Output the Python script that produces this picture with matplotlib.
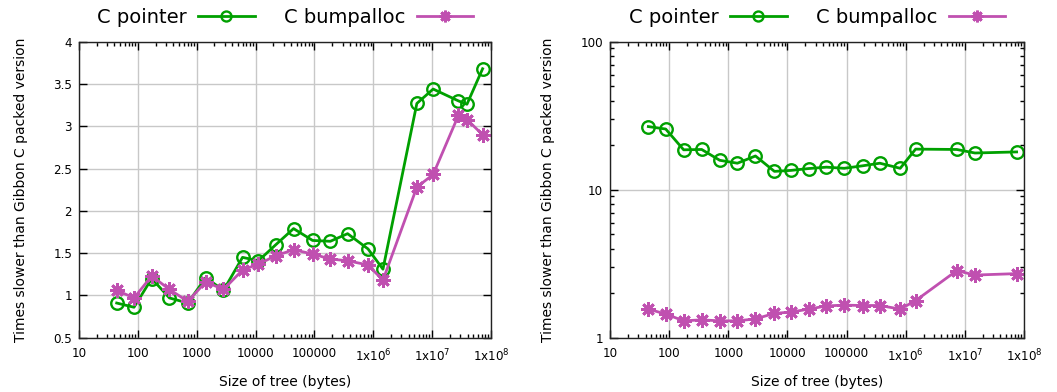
import matplotlib
matplotlib.use("Agg")
import matplotlib.pyplot as plt
from matplotlib.ticker import FixedLocator, LogLocator, NullFormatter

# ---- data ----
left_x_pointer = [43.7, 86, 172, 344, 705, 1425, 2850, 6000, 11200, 22100, 44200, 93000,
                  186000, 366000, 813000, 1.46e6, 5.5e6, 1.04e7, 2.8e7, 3.9e7, 7.2e7]
left_pointer = [0.91, 0.86, 1.20, 0.97, 0.91, 1.21, 1.06, 1.45, 1.41, 1.60, 1.79, 1.65,
                1.64, 1.73, 1.55, 1.31, 3.27, 3.44, 3.30, 3.26, 3.68]
left_bump = [1.06, 0.97, 1.23, 1.07, 0.93, 1.16, 1.07, 1.30, 1.37, 1.47, 1.54, 1.49,
             1.43, 1.41, 1.36, 1.18, 2.28, 2.43, 3.13, 3.08, 2.90]

right_x = [44.5, 87.5, 176, 355, 717, 1425, 2880, 6030, 11400, 23000, 45700, 91000,
           186000, 365000, 807000, 1.47e6, 7.3e6, 1.48e7, 7.5e7]
right_pointer = [26.7, 25.7, 18.6, 18.7, 15.8, 15.1, 16.9, 13.3, 13.5, 13.9, 14.2, 13.95,
                 14.5, 15.1, 13.95, 18.8, 18.7, 17.7, 18.0]
right_bump = [1.56, 1.445, 1.30, 1.32, 1.30, 1.30, 1.34, 1.46, 1.49, 1.56, 1.64, 1.66,
              1.65, 1.65, 1.56, 1.78, 2.84, 2.65, 2.71]

x_ticks = [10, 100, 1000, 10000, 100000, 1e6, 1e7, 1e8]
x_ticklabels = ["10", "100", "1000", "10000", "100000",
                r"1x10$^{6}$", r"1x10$^{7}$", r"1x10$^{8}$"]
left_yticks = [0.5, 1, 1.5, 2, 2.5, 3, 3.5, 4]
left_yticklabels = ["0.5", "1", "1.5", "2", "2.5", "3", "3.5", "4"]
right_yticks = [1, 10, 100]
right_yticklabels = ["1", "10", "100"]

series_names = ["C pointer", "C bumpalloc"]
GREEN = "#00a000"
MAGENTA = "#c050b0"
XLABEL = "Size of tree (bytes)"
YLABEL = "Times slower than Gibbon C packed version"

plt.rcParams["font.family"] = ["DejaVu Sans"]
plt.rcParams["mathtext.fontset"] = "dejavusans"

fig = plt.figure(figsize=(10.57, 3.92), dpi=100)
ax1 = fig.add_axes([79 / 1057, 1 - 337.7 / 392, 412 / 1057, 296 / 392])
ax2 = fig.add_axes([610 / 1057, 1 - 337.7 / 392, 414 / 1057, 296 / 392])

line_kw = dict(lw=2.0)
circ_kw = dict(marker="o", markersize=9, markerfacecolor="none", markeredgewidth=1.7)
star_kw = dict(marker=(8, 2, 0), markersize=10.5, markeredgewidth=2.0)


def style(ax):
    ax.set_xscale("log")
    ax.set_xlim(10, 1e8)
    ax.xaxis.set_major_locator(FixedLocator(x_ticks))
    ax.set_xticklabels(x_ticklabels)
    ax.xaxis.set_minor_locator(LogLocator(base=10, subs=range(2, 10), numticks=20))
    ax.xaxis.set_minor_formatter(NullFormatter())
    ax.tick_params(which="both", direction="in", top=True, right=True, labelsize=8.6,
                   color="black", width=1.0)
    ax.tick_params(which="major", length=6)
    ax.tick_params(which="minor", length=3)
    ax.tick_params(axis="x", pad=7)
    ax.tick_params(axis="y", pad=5)
    ax.grid(True, which="major", color="#c8c8c8", lw=1.0)
    ax.set_axisbelow(True)
    for s in ax.spines.values():
        s.set_color("#222222")
        s.set_linewidth(1.0)
    ax.set_xlabel(XLABEL, fontsize=10, labelpad=8)
    ax.set_ylabel(YLABEL, fontsize=10, labelpad=18)


# left (linear)
ax1.plot(left_x_pointer, left_pointer, color=GREEN, **line_kw, **circ_kw,
         label=series_names[0])
ax1.plot(left_x_pointer, left_bump, color=MAGENTA, **line_kw, **star_kw,
         label=series_names[1])
style(ax1)
ax1.set_ylim(0.5, 4)
ax1.yaxis.set_major_locator(FixedLocator(left_yticks))
ax1.set_yticklabels(left_yticklabels)

# right (log)
ax2.plot(right_x, right_pointer, color=GREEN, **line_kw, **circ_kw, label=series_names[0])
ax2.plot(right_x, right_bump, color=MAGENTA, **line_kw, **star_kw, label=series_names[1])
style(ax2)
ax2.set_yscale("log")
ax2.set_ylim(1, 100)
ax2.yaxis.set_major_locator(FixedLocator(right_yticks))
ax2.set_yticklabels(right_yticklabels)
ax2.yaxis.set_minor_locator(LogLocator(base=10, subs=range(2, 10), numticks=20))
ax2.yaxis.set_minor_formatter(NullFormatter())

for ax in (ax1, ax2):
    ax.legend(loc="center", bbox_to_anchor=(0.5, 1 + 24 / 296), ncol=2, frameon=False,
              markerfirst=False, fontsize=14, handlelength=2.9, handletextpad=0.6,
              columnspacing=1.5, borderaxespad=0.0, borderpad=0.0, markerscale=0.8)

fig.savefig("out.png", dpi=100)
